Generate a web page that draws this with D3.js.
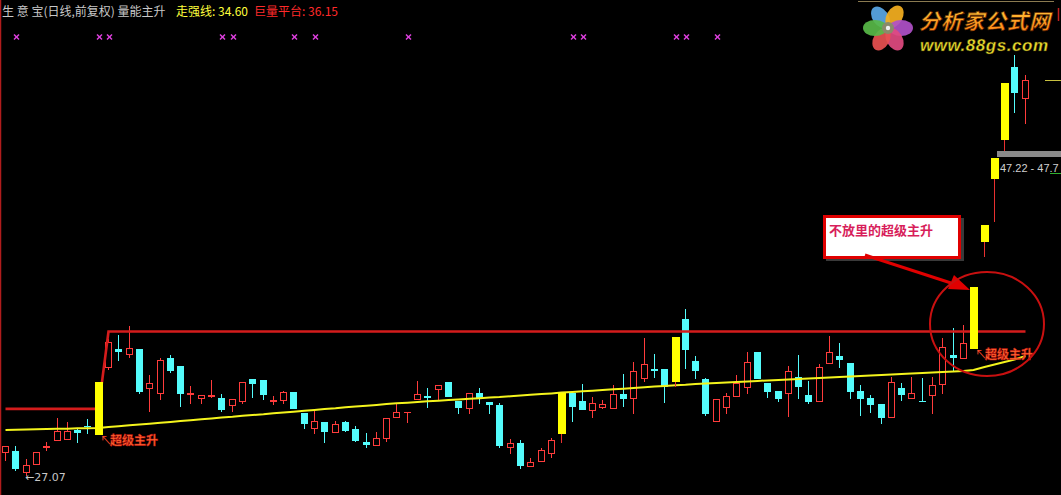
<!DOCTYPE html>
<html><head><meta charset="utf-8">
<script src="https://cdn.jsdelivr.net/npm/d3@7"></script>
<style>html,body{margin:0;padding:0;background:#000;overflow:hidden}svg{display:block}</style>
</head><body>
<svg id="c" width="1061" height="495"></svg>
<script>
// ---------- data ----------
const days = d3.range(100);
const openP = [28.52,28.59,27.26,27.76,28.84,29.28,29.35,29.92,30.17,29.66,
33.90,35.04,34.73,35.04,32.57,32.26,34.47,33.97,32.19,31.94,
32.07,31.94,31.50,31.75,33.14,33.08,31.77,31.81,32.32,30.99,
30.04,30.42,29.79,30.42,29.98,29.16,28.97,29.41,30.74,31.03,
31.88,32.07,32.51,32.95,31.75,31.31,32.26,31.69,31.50,28.84,
29.09,27.64,27.95,28.46,29.73,32.26,31.75,31.18,31.37,31.31,
32.19,31.94,33.21,33.78,33.78,33.02,36.94,34.28,33.14,30.49,
31.37,32.07,32.64,34.85,32.89,32.38,32.26,33.27,32.13,31.75,
34.16,34.60,34.16,32.38,31.94,31.56,30.74,32.57,31.94,31.77,
32.13,32.83,34.66,34.47,35.11,41.88,45.87,48.33,52.89,50.93];
const highP = [28.90,28.90,28.08,28.52,29.16,30.68,30.42,29.98,30.61,32.95,
35.68,35.93,36.50,35.04,33.40,34.47,34.66,33.97,32.70,32.13,
33.08,32.19,31.88,32.95,33.14,33.08,32.07,32.38,32.32,30.99,
31.12,30.42,30.49,30.49,30.17,29.73,29.79,30.68,31.56,31.05,
33.02,32.57,32.76,32.95,31.75,32.26,32.57,31.69,31.62,29.35,
29.28,28.14,28.78,29.41,32.26,32.26,32.83,32.00,31.81,32.76,
33.46,34.22,35.74,34.73,33.78,35.80,37.57,34.60,33.21,31.88,
32.26,33.40,34.85,34.85,32.89,32.38,33.97,34.66,33.02,34.09,
35.87,35.42,34.16,32.76,32.13,31.56,33.27,32.89,33.27,33.21,
33.27,35.74,36.37,36.56,38.97,42.89,47.13,51.88,53.65,52.38];
const lowP = [28.02,27.38,27.07,27.76,28.65,29.28,29.35,29.16,29.73,29.66,
33.78,34.35,34.54,32.26,31.12,31.88,33.59,31.43,31.62,31.62,
32.00,31.12,31.12,31.62,32.00,31.88,31.56,31.62,31.31,30.04,
29.73,29.16,29.79,29.85,29.22,28.84,28.97,29.22,30.74,30.42,
31.88,31.37,31.81,32.07,30.99,30.99,31.62,30.99,28.84,28.46,
27.51,27.64,27.95,28.21,29.16,30.49,31.24,30.74,31.31,31.31,
31.43,30.99,33.02,33.27,31.69,32.70,33.84,33.21,30.86,30.49,
30.99,32.07,32.26,33.21,32.00,31.75,30.80,31.94,31.62,31.75,
34.16,33.90,31.94,30.86,31.05,30.36,30.74,31.81,31.94,31.75,
30.99,32.26,33.71,34.47,35.11,40.93,43.14,47.64,50.04,49.35];
const closeP = [28.90,27.51,27.70,28.52,28.90,29.85,29.85,29.79,30.15,32.95,
35.49,34.92,35.11,32.38,32.89,34.35,33.71,32.26,32.26,32.13,
32.13,31.24,31.88,32.95,32.89,32.19,31.81,32.32,31.31,30.36,
30.49,29.85,30.30,29.92,29.28,29.03,29.41,30.68,31.05,31.05,
32.19,32.00,32.76,32.07,31.37,32.26,32.00,31.56,28.97,29.09,
27.70,27.89,28.65,29.28,32.26,31.43,31.24,31.62,31.56,32.19,
31.94,33.65,34.09,33.74,32.70,35.80,35.04,33.71,30.99,31.88,
32.07,32.89,34.22,33.21,32.38,31.94,33.65,32.70,31.75,33.90,
34.85,34.41,32.38,31.94,31.56,30.74,32.95,32.19,32.26,31.75,
32.76,35.17,34.54,35.42,38.97,42.89,47.13,51.88,51.31,52.07];
// 走强线
const strongLine = [29.92,29.93,29.94,29.96,29.97,29.99,30.00,30.02,30.03,30.04,
30.10,30.15,30.21,30.26,30.31,30.37,30.42,30.48,30.53,30.59,
30.64,30.70,30.75,30.81,30.86,30.91,30.97,31.02,31.07,31.13,
31.18,31.24,31.29,31.35,31.40,31.45,31.50,31.56,31.60,31.64,
31.69,31.73,31.77,31.81,31.85,31.89,31.93,31.97,32.00,32.05,
32.09,32.14,32.19,32.23,32.28,32.32,32.36,32.40,32.45,32.49,
32.53,32.57,32.62,32.66,32.70,32.75,32.78,32.83,32.86,32.89,
32.92,32.95,32.98,33.02,33.05,33.08,33.11,33.14,33.17,33.21,
33.24,33.27,33.30,33.33,33.37,33.40,33.43,33.46,33.49,33.52,
33.56,33.59,33.62,33.65,33.71,33.90,34.06,34.22,34.38,34.60];
// 巨量平台
const platformLine = [31.25,31.25,31.25,31.25,31.25,31.25,31.25,31.25,31.25,31.25,
36.15,36.15,36.15,36.15,36.15,36.15,36.15,36.15,36.15,36.15,
36.15,36.15,36.15,36.15,36.15,36.15,36.15,36.15,36.15,36.15,
36.15,36.15,36.15,36.15,36.15,36.15,36.15,36.15,36.15,36.15,
36.15,36.15,36.15,36.15,36.15,36.15,36.15,36.15,36.15,36.15,
36.15,36.15,36.15,36.15,36.15,36.15,36.15,36.15,36.15,36.15,
36.15,36.15,36.15,36.15,36.15,36.15,36.15,36.15,36.15,36.15,
36.15,36.15,36.15,36.15,36.15,36.15,36.15,36.15,36.15,36.15,
36.15,36.15,36.15,36.15,36.15,36.15,36.15,36.15,36.15,36.15,
36.15,36.15,36.15,36.15,36.15,36.15,36.15,36.15,36.15,36.15];
const highlightIdx = [9,54,65,94,95,96,97];      // 量能主升 yellow bars
const signalIdx = [1,9,10,21,22,28,30,39,55,56,65,66,69]; // magenta crosses
const labelIdx = [9,94];                          // 超级主升 labels
const lowLabelIdx = 2;                            // ←27.07
const titleMain = "生 意 宝(日线,前复权) 量能主升";
const strongLabel = "走强线";
const platformLabel = "巨量平台";
const signalText = "超级主升";
const calloutText = "不放里的超级主升";
const rangeText = "47.22 - 47.7";
const rangeLow = 47.22, rangeHigh = 47.60;
const logoCN = "分析家公式网";
const logoURL = "www.88gs.com";

// ---------- scales ----------
const W = 1061, H = 495;
const svg = d3.select('#c');
const x = d3.scaleBand().domain(days).range([0.35, 1030.35]);
const y = d3.scaleLinear().domain([25.80, 57.13]).range([H, 0]);
const CX = i => Math.round(x(days[i]) + x.bandwidth() / 2 - 0.5);
const Y = p => Math.round(y(p));
const fmt = d3.format('.2f');

svg.append('rect').attr('width', W).attr('height', H).attr('fill', '#000');

// ---------- candles ----------
const RED = '#ff3c3c', CYAN = '#54fcfc', YEL = '#ffff00';
const cg = svg.append('g');
days.forEach(i => {
  const o = openP[i], c = closeP[i], h = highP[i], l = lowP[i];
  const cx = CX(i);
  const up = c >= o;
  const top = Y(Math.max(o, c)), bot = Y(Math.min(o, c));
  const hy = Y(h), ly = Y(l);
  const col = up ? RED : CYAN;
  if (up) {
    if (hy < top) cg.append('line').attr('x1', cx + .5).attr('x2', cx + .5).attr('y1', hy).attr('y2', top).attr('stroke', col);
    if (ly > bot) cg.append('line').attr('x1', cx + .5).attr('x2', cx + .5).attr('y1', bot + 1).attr('y2', ly + 1).attr('stroke', col);
    if (bot - top < 1) {
      cg.append('line').attr('x1', cx - 3).attr('x2', cx + 4).attr('y1', top + .5).attr('y2', top + .5).attr('stroke', col);
    } else {
      cg.append('rect').attr('x', cx - 3 + .5).attr('y', top + .5).attr('width', 6).attr('height', bot - top)
        .attr('fill', 'none').attr('stroke', col);
    }
  } else {
    cg.append('line').attr('x1', cx + .5).attr('x2', cx + .5).attr('y1', hy).attr('y2', ly + 1).attr('stroke', col);
    cg.append('rect').attr('x', cx - 3).attr('y', top).attr('width', 7).attr('height', Math.max(bot - top + 1, 1)).attr('fill', col);
  }
});

// ---------- lines ----------
const lineGen = arr => d3.line().x((d, i) => CX(i) + .5).y(d => y(d))(arr);
svg.append('path').attr('d', lineGen(platformLine)).attr('fill', 'none')
  .attr('stroke', '#d41c1c').attr('stroke-width', 2.6);
svg.append('path').attr('d', lineGen(strongLine)).attr('fill', 'none')
  .attr('stroke', '#f4f41c').attr('stroke-width', 2);

// highlighted (yellow) bars on top
highlightIdx.forEach(i => {
  const cx = CX(i);
  const top = Y(Math.max(openP[i], closeP[i])), bot = Y(Math.min(openP[i], closeP[i]));
  svg.append('line').attr('x1', cx + .5).attr('x2', cx + .5).attr('y1', Y(highP[i])).attr('y2', Y(lowP[i]) + 1)
    .attr('stroke', '#e83030');
  svg.append('rect').attr('x', cx - 3).attr('y', top).attr('width', 8).attr('height', bot - top + 1).attr('fill', YEL);
});

// ---------- signal crosses ----------
const sg = svg.append('g').attr('stroke', '#e040e0').attr('stroke-width', 1.4);
signalIdx.forEach(i => {
  const cx = CX(i) + 1.5, cy = 37;
  sg.append('line').attr('x1', cx - 2.5).attr('x2', cx + 2.5).attr('y1', cy - 2.5).attr('y2', cy + 2.5);
  sg.append('line').attr('x1', cx - 2.5).attr('x2', cx + 2.5).attr('y1', cy + 2.5).attr('y2', cy - 2.5);
});

// ---------- title ----------
const CJK = "'Noto Sans CJK SC','Noto Sans',sans-serif";
const tg = svg.append('g').attr('font-family', CJK).attr('font-size', 12);
tg.append('text').attr('x', 2).attr('y', 16).attr('fill', '#c8c8c8').text(titleMain);
tg.append('text').attr('x', 176).attr('y', 16).attr('fill', '#ffff3c').text(`${strongLabel}: ${fmt(strongLine[99])}`);
tg.append('text').attr('x', 254).attr('y', 16).attr('fill', '#ff2a2a').text(`${platformLabel}: ${fmt(platformLine[99])}`);

// left border
svg.append('line').attr('x1', 0.5).attr('x2', 0.5).attr('y1', 0).attr('y2', H).attr('stroke', '#b01c1c').attr('stroke-width', 1.5);

// ---------- labels ----------
labelIdx.forEach(i => {
  const cx = CX(i), by = Y(Math.min(openP[i], closeP[i]));
  svg.append('text').attr('x', cx + 2).attr('y', by + 11).attr('fill', '#ff4a2a')
    .attr('font-family', CJK).attr('font-size', 12).text('↖');
  svg.append('text').attr('x', cx + 12).attr('y', by + 11).attr('fill', '#ff6a30').attr('stroke', '#c81010')
    .attr('stroke-width', 0.5).attr('font-family', CJK).attr('font-size', 12).attr('font-weight', 'bold').text(signalText);
});
svg.append('text').attr('x', CX(lowLabelIdx) - 1).attr('y', Y(lowP[lowLabelIdx]) + 6)
  .attr('fill', '#c8c8c8').attr('font-family', "'DejaVu Sans',sans-serif").attr('font-size', 11)
  .text('←' + fmt(lowP[lowLabelIdx]));

// price range marker at right
svg.append('rect').attr('x', 997).attr('y', Y(rangeHigh)).attr('width', W - 997).attr('height', Y(rangeLow) - Y(rangeHigh))
  .attr('fill', '#8a8a8a');
svg.append('text').attr('x', 1000).attr('y', 172).attr('fill', '#d0d0d0')
  .attr('font-family', "'Liberation Sans',Arial,sans-serif").attr('font-size', 11).text(rangeText);
svg.append('line').attr('x1', 1050).attr('x2', W).attr('y1', 173.5).attr('y2', 173.5).attr('stroke', '#30b030');
svg.append('line').attr('x1', 1045).attr('x2', W).attr('y1', 80.5).attr('y2', 80.5).attr('stroke', '#c8c040');

// ---------- callout ----------
svg.append('rect').attr('x', 826).attr('y', 218).attr('width', 138).attr('height', 43).attr('fill', '#3a3a3a');
svg.append('rect').attr('x', 824.5).attr('y', 216.5).attr('width', 135).attr('height', 41).attr('fill', '#fff')
  .attr('stroke', '#e00000').attr('stroke-width', 3);
svg.append('text').attr('x', 829).attr('y', 235).attr('fill', '#d81e5b').attr('font-family', CJK)
  .attr('font-size', 13).attr('font-weight', 'bold').text(calloutText);
// arrow
const tipX = CX(94) - 3, tipY = 290;
svg.append('line').attr('x1', 865).attr('y1', 255).attr('x2', tipX - 19).attr('y2', tipY - 7)
  .attr('stroke', '#e00000').attr('stroke-width', 3);
svg.append('path').attr('d', `M${tipX},${tipY} L${tipX - 22},${tipY - 1} L${tipX - 16},${tipY - 15} Z`).attr('fill', '#e00000');
// circle
svg.append('ellipse').attr('cx', 987).attr('cy', 324).attr('rx', 57).attr('ry', 52)
  .attr('fill', 'none').attr('stroke', '#c81010').attr('stroke-width', 2);

// ---------- logo ----------
svg.append('line').attr('x1', 858).attr('x2', 1054).attr('y1', 1.5).attr('y2', 1.5).attr('stroke', '#8a7a50');
svg.append('line').attr('x1', 1058.5).attr('x2', 1058.5).attr('y1', 8).attr('y2', 21).attr('stroke', '#c02020').attr('stroke-width', 1.5);
const fl = svg.append('g').attr('transform', 'translate(888,28)');
const petals = [['#5aa8e8', -125], ['#f5b020', -60], ['#b050c8', 0], ['#e04a80', 60], ['#e85050', 120], ['#58b848', 180]];
petals.forEach(([c, a]) => {
  fl.append('ellipse').attr('cx', 13).attr('cy', 0).attr('rx', 12).attr('ry', 8).attr('fill', c).attr('opacity', 0.92)
    .attr('transform', `rotate(${a})`);
});
fl.append('circle').attr('r', 6).attr('fill', '#8a8a6a');
fl.append('circle').attr('r', 2.2).attr('fill', '#f0f0f0');
const defs = svg.append('defs');
const gr = defs.append('linearGradient').attr('id', 'lg').attr('x1', 0).attr('x2', 0).attr('y1', 0).attr('y2', 1);
gr.append('stop').attr('offset', '0%').attr('stop-color', '#ffd040');
gr.append('stop').attr('offset', '100%').attr('stop-color', '#ff7a10');
svg.append('text').attr('x', 919).attr('y', 29).attr('fill', 'url(#lg)').attr('stroke', '#5a2200').attr('stroke-width', 0.6)
  .attr('font-family', CJK).attr('font-size', 21).attr('font-weight', 'bold').attr('font-style', 'italic')
  .attr('textLength', 131).text(logoCN);
svg.append('text').attr('x', 920).attr('y', 51).attr('fill', '#e8dc30').attr('stroke', '#3a3000').attr('stroke-width', 0.4)
  .attr('font-family', "'Liberation Sans',Arial,sans-serif").attr('font-size', 17).attr('font-weight', 'bold').attr('font-style', 'italic')
  .attr('textLength', 128).text(logoURL);
</script>
</body></html>
